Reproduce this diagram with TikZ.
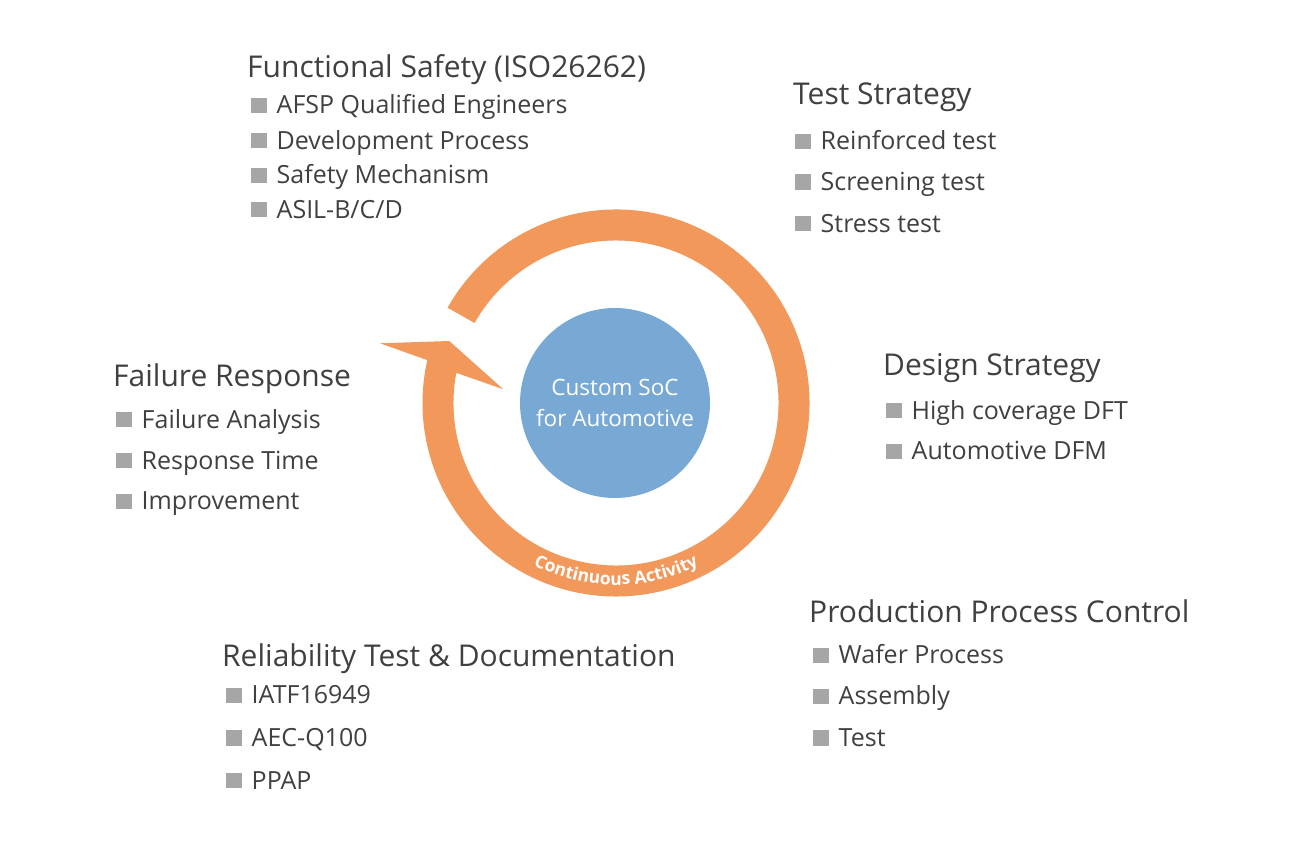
\documentclass[tikz,border=0pt]{standalone}
\usepackage{fontspec}
\setmainfont{Open Sans}
\usetikzlibrary{decorations.text}
\definecolor{ringorange}{HTML}{F1985A}
\definecolor{socblue}{HTML}{78A9D4}
\definecolor{txtgray}{HTML}{404040}
\definecolor{bulgray}{HTML}{A6A6A6}
\newcommand\sq{{\color{bulgray}\rule[0.8pt]{15.5pt}{15.5pt}}\hspace{10pt}}

\begin{document}
\begin{tikzpicture}[x=1pt,y=1pt,
  ttl/.style={anchor=base west, inner sep=0pt, text=txtgray, font=\fontsize{30}{36}\selectfont},
  itm/.style={anchor=base west, inner sep=0pt, text=txtgray, font=\fontsize{25}{30}\selectfont}]
\fill[white] (0,0) rectangle (1311,848);
\useasboundingbox (0,0) rectangle (1311,848);
% ring arrow:
\coordinate (ring) at (616,445);
\fill[ringorange] ([shift={(150.5:193.5)}]ring) arc[start angle=150.5, end angle=-192.8, radius=193.5]
  -- (380,504.7) -- (449.3,507) -- (503.3,458.7)
  -- ([shift={(-190.7:162.5)}]ring) arc[start angle=-190.7, end angle=150.5, radius=162.5] -- cycle;
\path[decorate, decoration={text along path, text align=center,
  text={|\color{white}\bfseries\fontsize{17.5}{17.5}\selectfont|Continuous Activity}}]
  ([shift={(205:182)}]ring) arc[start angle=205, end angle=335, radius=182];
% center:
\node[circle, fill=socblue, minimum size=190pt, inner sep=0pt, align=center, text=white,
  font=\fontsize{22.5}{31}\selectfont] (soc) at (615,445) {Custom SoC\\for Automotive};
% functional safety:
\node[ttl] (fs) at (247,770.7) {Functional Safety (ISO26262)};
\node[itm] (fs1) at (251,734) {\sq AFSP Qualified Engineers};
\node[itm] (fs2) at (251,698.7) {\sq Development Process};
\node[itm] (fs3) at (251,664) {\sq Safety Mechanism};
\node[itm] (fs4) at (251,629.7) {\sq ASIL-B/C/D};
% test strategy:
\node[ttl] (ts) at (793,743) {Test Strategy};
\node[itm] (ts1) at (795,698) {\sq Reinforced test};
\node[itm] (ts2) at (795,657.3) {\sq Screening test};
\node[itm] (ts3) at (795,615.7) {\sq Stress test};
% design strategy:
\node[ttl] (ds) at (883,472) {Design Strategy};
\node[itm] (ds1) at (886,428.7) {\sq High coverage DFT};
\node[itm] (ds2) at (886,388) {\sq Automotive DFM};
% failure response:
\node[ttl] (fr) at (113,461.3) {Failure Response};
\node[itm] (fr1) at (116,419.7) {\sq Failure Analysis};
\node[itm] (fr2) at (116,378.7) {\sq Response Time};
\node[itm] (fr3) at (116,338) {\sq Improvement};
% production process control:
\node[ttl] (pc) at (809,225.7) {Production Process Control};
\node[itm] (pc1) at (813,184) {\sq Wafer Process};
\node[itm] (pc2) at (813,143) {\sq Assembly};
\node[itm] (pc3) at (813,101.3) {\sq Test};
% reliability test:
\node[ttl] (rt) at (222,181.3) {Reliability Test \& Documentation};
\node[itm] (rt1) at (226,144) {\sq IATF16949};
\node[itm] (rt2) at (226,101.3) {\sq AEC-Q100};
\node[itm] (rt3) at (226,58.7) {\sq PPAP};
\end{tikzpicture}
\end{document}
